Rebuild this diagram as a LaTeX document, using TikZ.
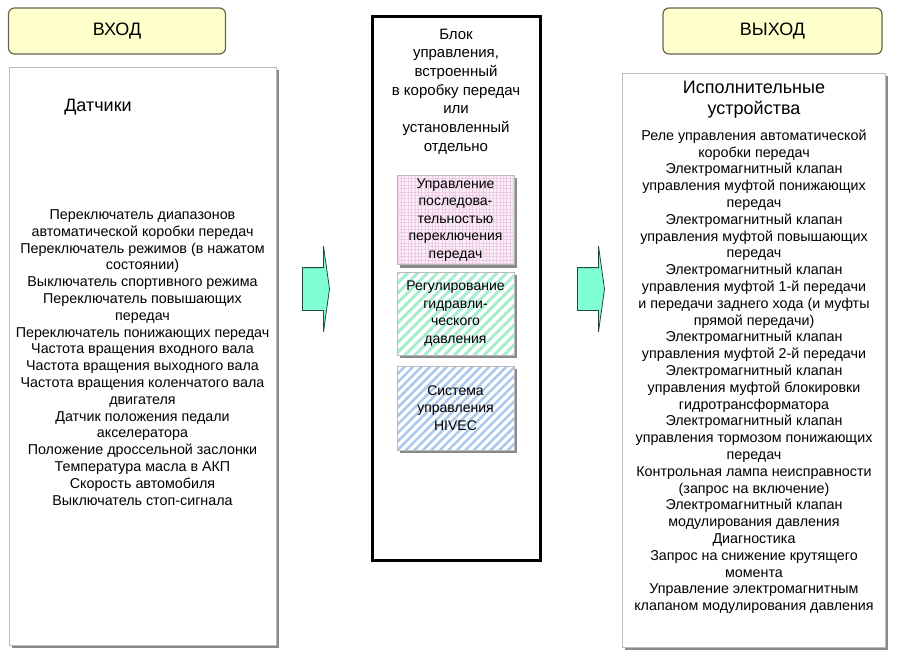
\documentclass[tikz,border=0pt]{standalone}
\usepackage{fontspec}
\setmainfont{Liberation Sans}
\usetikzlibrary{shapes.arrows,shadows,patterns.meta}
\definecolor{headfill}{HTML}{FFFFCC}
\definecolor{headline}{HTML}{66664F}
\definecolor{panelline}{HTML}{BBBBBB}
\definecolor{panelshadow}{HTML}{8A8A8A}
\definecolor{arrowfill}{HTML}{80FFD4}
\definecolor{arrowline}{HTML}{1F4A38}
\definecolor{pinkfill}{HTML}{FBEFF8}
\definecolor{pinkgrid}{HTML}{EDCBE6}
\definecolor{greenline}{HTML}{A6EDCF}
\definecolor{blueline}{HTML}{AAC8EA}
\tikzset{
    io-head/.style = {draw=headline, fill=headfill, line width=1.2pt, rectangle, rounded corners=6pt, minimum height=46pt, font=\fontsize{18}{21}\selectfont},
    list-panel/.style = {draw=panelline, fill=white, rectangle, drop shadow={shadow xshift=3pt, shadow yshift=-3pt, fill=panelshadow, opacity=1}},
    list-title/.style = {align=center, font=\fontsize{18}{21}\selectfont},
    list-text/.style = {align=center, inner sep=0pt, anchor=north, font=\fontsize{14.3}{16.8}\selectfont},
    ctrl-frame/.style = {draw=black, line width=3pt, fill=white, rectangle, minimum width=168pt, minimum height=543pt},
    unit-box/.style = {draw=panelline, rectangle, minimum width=117pt, align=center, font=\fontsize{14}{17.5}\selectfont, drop shadow={shadow xshift=3pt, shadow yshift=-3pt, fill=panelshadow, opacity=1}},
    flow-arrow/.style = {single arrow, draw=arrowline, fill=arrowfill, thick, minimum height=27pt, inner xsep=0pt, inner ysep=21pt, single arrow head extend=21.5pt, single arrow tip angle=164},
}

\begin{document}
\begin{tikzpicture}[x=1pt, y=-1pt]
\useasboundingbox (0,0) rectangle (904,661);

% input side
\node [io-head, minimum width=217pt] (in-head) at (117,31) {ВХОД};
\node [list-panel, minimum width=267pt, minimum height=578pt] (in-panel) at (142.5,356) {};
\node [list-title] (in-title) at (98,107) {Датчики};
\node [list-text] (in-list) at (142.5,209.5) {Переключатель диапазонов\\
    автоматической коробки передач\\
    Переключатель режимов (в нажатом\\
    состоянии)\\
    Выключатель спортивного режима\\
    Переключатель повышающих\\
    передач\\
    Переключатель понижающих передач\\
    Частота вращения входного вала\\
    Частота вращения выходного вала\\
    Частота вращения коленчатого вала\\
    двигателя\\
    Датчик положения педали\\
    акселератора\\
    Положение дроссельной заслонки\\
    Температура масла в АКП\\
    Скорость автомобиля\\
    Выключатель стоп-сигнала};

\node [flow-arrow] (arr-in) at (314.5,289) {};

% control unit
\node [ctrl-frame] (ctrl) at (456,288.5) {};
\node [list-text, font=\fontsize{15}{18.7}\selectfont] (ctrl-text) at (456,28.5) {Блок\\
    управления,\\
    встроенный\\
    в коробку передач\\
    или\\
    установленный\\
    отдельно};
\node [unit-box, minimum height=84pt, preaction={fill=pinkfill}, pattern={Hatch[angle=0, distance=3.4pt, line width=0.4pt]}, pattern color=pinkgrid] (unit-seq) at (455.5,220) {Управление\\ последова-\\ тельностью\\ переключения\\ передач};
\node [unit-box, minimum height=83pt, preaction={fill=white}, pattern={Lines[angle=45, distance=7pt, line width=3pt]}, pattern color=greenline] (unit-press) at (455.5,313.5) {Регулирование\\ гидравли-\\ ческого\\ давления};
\node [unit-box, minimum height=84pt, preaction={fill=white}, pattern={Lines[angle=45, distance=6pt, line width=2.5pt]}, pattern color=blueline] (unit-hivec) at (455.5,408) {Система\\ управления\\ HIVEC};

\node [flow-arrow] (arr-out) at (589.5,289) {};

% output side
\node [io-head, minimum width=219pt] (out-head) at (772.5,31) {ВЫХОД};
\node [list-panel, minimum width=263pt, minimum height=574pt] (out-panel) at (753.5,360) {};
\node [list-title] (out-title) at (754,99.5) {Исполнительные\\ устройства};
\node [list-text] (out-list) at (754,129.5) {Реле управления автоматической\\
    коробки передач\\
    Электромагнитный клапан\\
    управления муфтой понижающих\\
    передач\\
    Электромагнитный клапан\\
    управления муфтой повышающих\\
    передач\\
    Электромагнитный клапан\\
    управления муфтой 1-й передачи\\
    и передачи заднего хода (и муфты\\
    прямой передачи)\\
    Электромагнитный клапан\\
    управления муфтой 2-й передачи\\
    Электромагнитный клапан\\
    управления муфтой блокировки\\
    гидротрансформатора\\
    Электромагнитный клапан\\
    управления тормозом понижающих\\
    передач\\
    Контрольная лампа неисправности\\
    (запрос на включение)\\
    Электромагнитный клапан\\
    модулирования давления\\
    Диагностика\\
    Запрос на снижение крутящего\\
    момента\\
    Управление электромагнитным\\
    клапаном модулирования давления};
\end{tikzpicture}
\end{document}
